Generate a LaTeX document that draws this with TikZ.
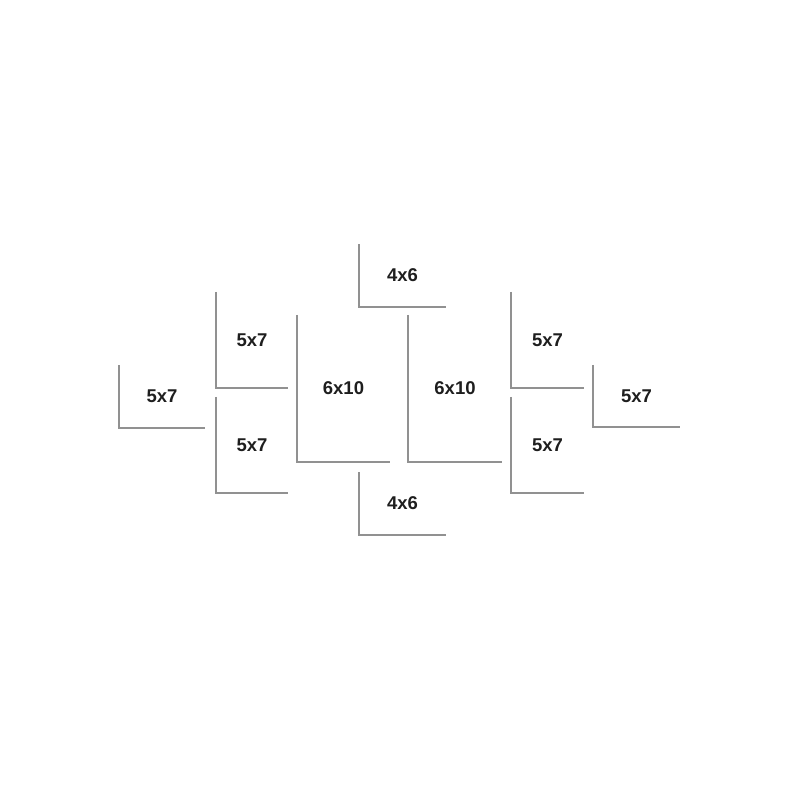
\documentclass[tikz,border=0pt]{standalone}
\usepackage{fontspec}
\setmainfont{Liberation Sans}
\usepackage{tikz}
\usetikzlibrary{positioning}
\definecolor{framegray}{RGB}{145,145,145}
\definecolor{labelgray}{RGB}{30,30,30}

\begin{document}
\begin{tikzpicture}[
        x=1pt, y=-1pt,
        frame/.style={rectangle, inner sep=0pt, align=center, text=labelgray, font=\bfseries\fontsize{18.5}{20}\selectfont},
        land/.style={frame, minimum width=86pt, minimum height=62pt},
        port/.style={frame, minimum width=72pt, minimum height=96pt},
        tall/.style={frame, minimum width=93pt, minimum height=147pt},
        edge/.style={draw=framegray, line width=2pt, line join=miter}
    ]
        \useasboundingbox (0,0) rectangle (800,800);

        % Frames
        \node[land] (top46) at (402.5,275.5) {4x6};
        \node[land] (bot46) at (402.5,503.5) {4x6};
        \node[land] (left57) at (162,396.5) {5x7};
        \node[port] (ul57) at (252,340) {5x7};
        \node[port] (ll57) at (252,445) {5x7};
        \node[tall] (lten) at (343.5,388.5) {6x10};
        \node[tall] (rten) at (455,388.5) {6x10};
        \node[port] (ur57) at (547.5,340) {5x7};
        \node[port] (lr57) at (547.5,445) {5x7};
        \node[land] (right57) at (636.5,396) {5x7};

        % Edges
        \foreach \f in {top46,bot46,left57,ul57,ll57,lten,rten,ur57,lr57,right57}
            \draw[edge] (\f.north west) -- (\f.south west) -- (\f.south east);

    \end{tikzpicture}
\end{document}
